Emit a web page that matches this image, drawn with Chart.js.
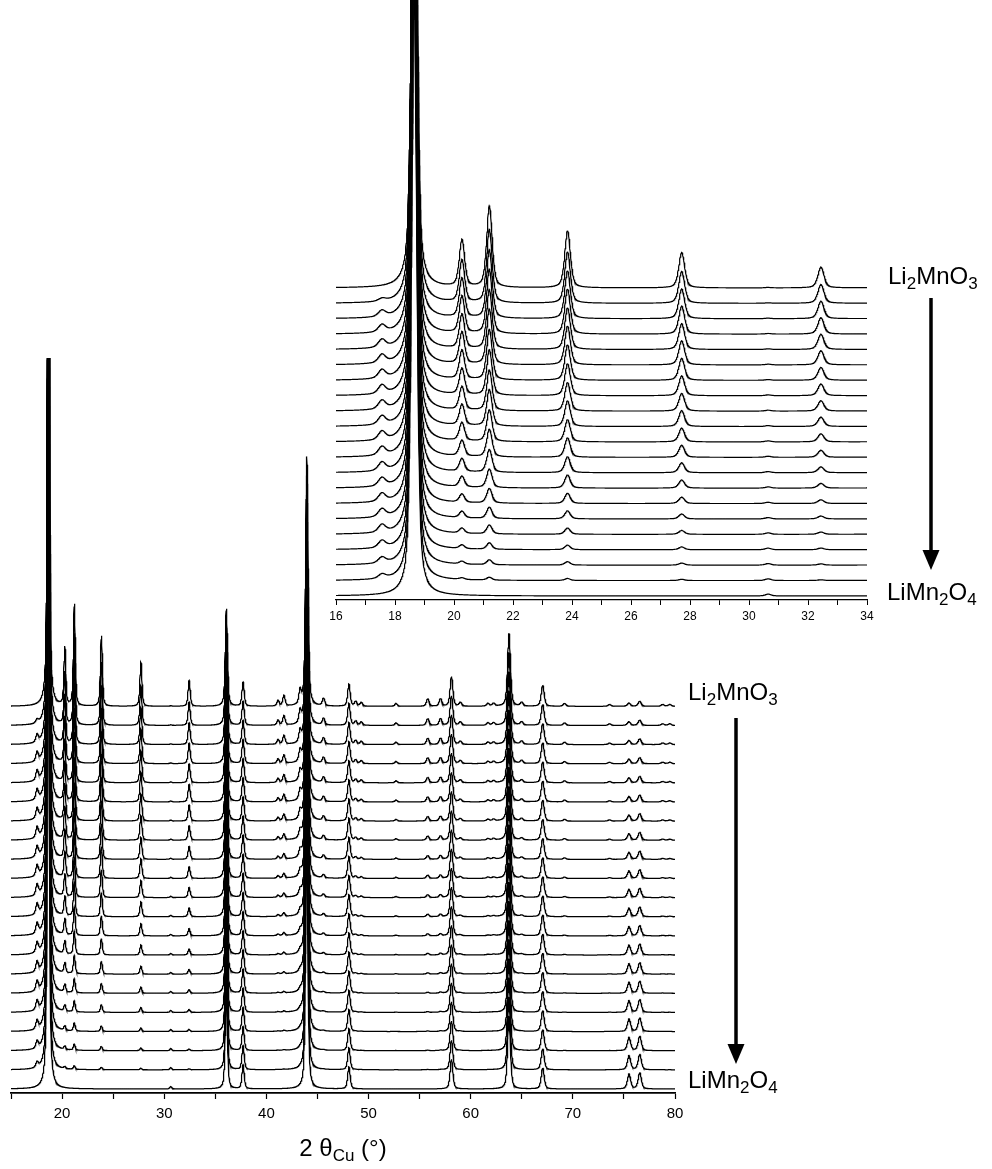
<!DOCTYPE html>
<html>
<head>
<meta charset="utf-8">
<script src="https://cdn.jsdelivr.net/npm/chart.js@4.4.0/dist/chart.umd.min.js"></script>
<style>
  body { margin: 0; background: #fff; width: 992px; height: 1169px; position: relative; overflow: hidden;
         font-family: "Liberation Sans", Arial, sans-serif; color: #000; }
  canvas { position: absolute; left: 0; top: 0; }
  .lab { position: absolute; font-size: 24px; line-height: 24px; white-space: nowrap; }
  .lab sub { font-size: 17px; line-height: 0; vertical-align: baseline; position: relative; top: 5px; }
  svg { position: absolute; left: 0; top: 0; }
</style>
</head>
<body>
<canvas id="mainChart" width="992" height="1169"></canvas>
<canvas id="insetChart" width="992" height="660"></canvas>

<div class="lab" style="left:888px; top:264px;">Li<sub>2</sub>MnO<sub>3</sub></div>
<div class="lab" style="left:887px; top:580px;">LiMn<sub>2</sub>O<sub>4</sub></div>
<div class="lab" style="left:688px; top:680px;">Li<sub>2</sub>MnO<sub>3</sub></div>
<div class="lab" style="left:688px; top:1068px;">LiMn<sub>2</sub>O<sub>4</sub></div>
<div class="lab" style="left:243px; width:200px; text-align:center; top:1136px;">2 θ<sub>Cu</sub> (°)</div>

<svg width="992" height="1169">
  <line x1="931" y1="298" x2="931" y2="552" stroke="#000" stroke-width="3.5"/>
  <polygon points="922.5,550 939.5,550 931,570" fill="#000"/>
  <line x1="736" y1="718" x2="736" y2="1046" stroke="#000" stroke-width="3.5"/>
  <polygon points="727.5,1044 744.5,1044 736,1064" fill="#000"/>
</svg>

<script>
// peaks present in every pattern (2θ, height in units of the trace spacing)
const commonPos = [18.65, 36.08, 37.72, 43.95, 48.08, 58.12, 63.75, 67.05];
const commonInt = [40, 5.1, 1.25, 13.1, 1.15, 1.55, 3.8, 1.1];

// Li2MnO3 reflections, heights as in the top pattern
const li2mno3Pos = [20.27, 21.2, 23.85, 27.72, 32.44, 41.15, 41.72, 43.3, 45.6, 48.75, 49.3,
                    52.7, 55.8, 57.05, 59.0, 61.7, 62.25, 65.0, 69.2, 73.6, 76.55, 78.8, 79.5];
const li2mno3Int = [3.05, 5.3, 3.7, 2.3, 1.35, 0.3, 0.55, 0.7, 0.4, 0.25, 0.2,
                    0.15, 0.4, 0.4, 0.2, 0.15, 0.15, 0.2, 0.15, 0.1, 0.08, 0.1, 0.1];

// LiMn2O4-only reflections, heights as in the bottom pattern
const spinelPos = [30.65, 75.5, 76.55];
const spinelInt = [0.12, 0.78, 0.85];

// broad shoulder at 17.6°
const shoulderPos = 17.56;

// one value per pattern, top (Li2MnO3) to bottom (LiMn2O4)
const li2mno3Scale = [1.0, 0.9, 0.84, 0.79, 0.73, 0.68, 0.62, 0.56, 0.5, 0.45, 0.39,
                      0.34, 0.28, 0.23, 0.18, 0.14, 0.11, 0.08, 0.06, 0.035, 0];
const spinelScale = [0.22, 0.25, 0.28, 0.31, 0.34, 0.37, 0.41, 0.44, 0.47, 0.51, 0.55,
                     0.58, 0.62, 0.66, 0.7, 0.74, 0.79, 0.84, 0.89, 0.95, 1.0];
const shoulderInt = [0, 0.18, 0.4, 0.48, 0.52, 0.54, 0.55, 0.56, 0.56, 0.56, 0.56,
                     0.56, 0.55, 0.54, 0.53, 0.52, 0.5, 0.46, 0.38, 0.28, 0];

const ETA = 0.5;          // lorentzian share of the peak shape
const LN2 = Math.log(2);
const nPat = li2mno3Scale.length;

// half width grows slowly with angle
function halfWidth(p) {
  return 0.105 + 0.0014 * (p - 18);
}

function pv(x, p, h, w) {
  const d = (x - p) / w;
  return h * (ETA / (1 + d * d) + (1 - ETA) * Math.exp(-LN2 * d * d));
}

function pattern(k, from, to, step) {
  const pts = [];
  const n = Math.round((to - from) / step);
  for (let i = 0; i <= n; i++) {
    const x = from + i * step;
    let y = pv(x, shoulderPos, shoulderInt[k], 0.15);
    commonPos.forEach((p, j) => { y += pv(x, p, commonInt[j], halfWidth(p)); });
    li2mno3Pos.forEach((p, j) => { y += pv(x, p, li2mno3Int[j] * li2mno3Scale[k], halfWidth(p)); });
    spinelPos.forEach((p, j) => { y += pv(x, p, spinelInt[j] * spinelScale[k], halfWidth(p)); });
    pts.push({ x: x, y: y + (nPat - 1 - k) });
  }
  return pts;
}

function datasets(from, to, step, lw) {
  const out = [];
  for (let k = 0; k < nPat; k++) {
    out.push({
      data: pattern(k, from, to, step),
      borderColor: '#000',
      borderWidth: lw,
      pointRadius: 0,
      tension: 0,
      fill: false
    });
  }
  return out;
}

const font = "'Liberation Sans', Arial, sans-serif";

function xTicks(min, max, minor) {
  return (scale) => {
    const t = [];
    for (let v = min; v <= max + 1e-9; v += minor) t.push({ value: v });
    scale.ticks = t;
  };
}

// main pattern
new Chart(document.getElementById('mainChart'), {
  type: 'line',
  data: { datasets: datasets(15, 80, 0.02, 1.25) },
  options: {
    responsive: false,
    animation: false,
    events: [],
    layout: { padding: { left: 11, right: 317, top: 358, bottom: 16 } },
    plugins: { legend: { display: false }, tooltip: { enabled: false } },
    scales: {
      x: {
        type: 'linear', min: 15, max: 80,
        afterBuildTicks: xTicks(15, 80, 5),
        afterFit: (s) => { s.height = 60; },
        ticks: {
          autoSkip: false, maxRotation: 0, padding: 6, color: '#000',
          font: { family: font, size: 15 },
          callback: (v) => (v % 10 === 0 ? v : '')
        },
        grid: { drawOnChartArea: false, drawTicks: true, tickLength: 6, tickColor: '#000', tickWidth: 1.2 },
        border: { display: true, color: '#000', width: 1.8 }
      },
      y: { display: false, min: -0.21, max: 38.21 }
    }
  }
});

// zoomed inset
new Chart(document.getElementById('insetChart'), {
  type: 'line',
  data: { datasets: datasets(16, 34, 0.01, 1.2) },
  options: {
    responsive: false,
    animation: false,
    events: [],
    layout: { padding: { left: 336, right: 125, top: 0, bottom: 0 } },
    plugins: { legend: { display: false }, tooltip: { enabled: false } },
    scales: {
      x: {
        type: 'linear', min: 16, max: 34,
        afterBuildTicks: xTicks(16, 34, 1),
        afterFit: (s) => { s.height = 60; },
        ticks: {
          autoSkip: false, maxRotation: 0, padding: 4, color: '#000',
          font: { family: font, size: 12 },
          callback: (v) => (v % 2 === 0 ? v : '')
        },
        grid: { drawOnChartArea: false, drawTicks: true, tickLength: 5, tickColor: '#000', tickWidth: 1 },
        border: { display: true, color: '#000', width: 1.2 }
      },
      y: { display: false, min: -0.26, max: 38.7 }
    }
  }
});
</script>
</body>
</html>
